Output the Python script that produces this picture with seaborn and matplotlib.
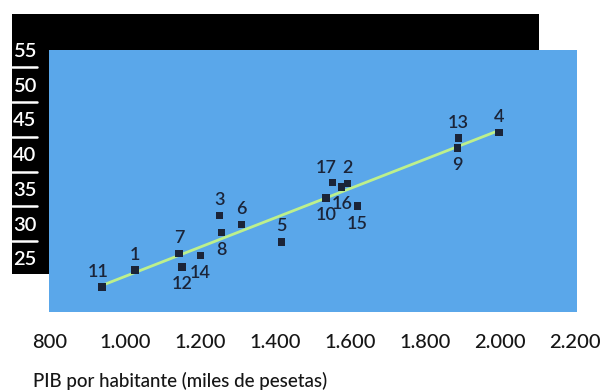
import matplotlib
matplotlib.use("Agg")
import matplotlib.pyplot as plt
import matplotlib.transforms as mtransforms
from matplotlib.patches import Rectangle
from matplotlib.lines import Line2D
import seaborn as sns
import pandas as pd

# ---- data ----
region_ids = [1, 2, 3, 4, 5, 6, 7, 8, 9, 10, 11, 12, 13, 14, 15, 16, 17]
pib_per_capita = [1027, 1593, 1252, 1997, 1418, 1311, 1145, 1258, 1887,
                  1537, 939, 1152, 1889, 1202, 1620, 1578, 1554]
y_values = [23.3, 35.8, 31.2, 43.1, 27.4, 29.9, 25.7, 28.7, 40.9,
            33.7, 20.9, 23.8, 42.3, 25.4, 32.5, 35.3, 35.9]
x_ticks = [800, 1000, 1200, 1400, 1600, 1800, 2000, 2200]
x_tick_labels = ["800", "1.000", "1.200", "1.400", "1.600", "1.800", "2.000", "2.200"]
y_ticks = [25, 30, 35, 40, 45, 50, 55]
x_label = "PIB por habitante (miles de pesetas)"

df = pd.DataFrame({"id": region_ids, "pib": pib_per_capita, "y": y_values})

# ---- styling ----
sns.set_theme(style="white")
plt.rcParams["font.family"] = ["Lato", "DejaVu Sans"]

W, H = 606, 390
fig = plt.figure(figsize=(W / 100, H / 100), dpi=100, facecolor="white")

# axes = blue panel
bl, bt, br, bb = 49, 50, 577, 312
ax = fig.add_axes([bl / W, 1 - bb / H, (br - bl) / W, (bb - bt) / H])
blue = "#5aa7ea"
ax.set_facecolor(blue)
for s in ax.spines.values():
    s.set_visible(False)

ax.set_xlim(798.3, 2204.9)
ax.set_ylim(17.28, 52.62)

# black panel behind (figure level)
kl, kt, kr, kb = 12, 14, 539, 274
fig.patches.append(Rectangle((kl / W, 1 - kb / H), (kr - kl) / W, (kb - kt) / H,
                             transform=fig.transFigure, facecolor="black",
                             edgecolor="none", zorder=-1))

# white separators between y labels
blend = mtransforms.blended_transform_factory(fig.transFigure, ax.transData)
for t in y_ticks[:-1]:
    fig.lines.append(Line2D([12 / W, 37 / W], [t + 2.5, t + 2.5], transform=blend,
                            color="white", lw=1.8, zorder=0))

navy = "#1b2438"
sns.regplot(data=df, x="pib", y="y", ax=ax, ci=None, marker="s",
            scatter_kws=dict(s=30, color=navy, edgecolors="none", alpha=1, zorder=3),
            line_kws=dict(color="#bdf08c", lw=2.0, zorder=2))

# labels around markers (offsets in points)
above = (0, 11)
below = (0, -12.5)
offsets = {1: above, 2: above, 3: above, 4: above, 5: above, 6: above, 7: above,
           8: below, 9: below, 10: below, 11: (-2.5, 11), 12: below, 13: above,
           14: below, 15: below, 16: below, 17: (-4.5, 10.5)}
for rid, xv, yv in zip(region_ids, pib_per_capita, y_values):
    ax.annotate(str(rid), (xv, yv), xytext=offsets[rid], textcoords="offset points",
                ha="center", va="center", fontsize=13, fontweight="semibold",
                color=navy, zorder=4)

ax.set_xticks(x_ticks)
ax.set_xticklabels(x_tick_labels, fontweight="medium")
ax.set_yticks(y_ticks)
ax.set_yticklabels([str(v) for v in y_ticks], fontweight="semibold")
ax.tick_params(axis="x", length=0, pad=16, labelsize=14.5, labelcolor="#161616")
ax.tick_params(axis="y", length=0, pad=9, labelsize=14.5, labelcolor="white")
ax.set_xlabel("")
ax.set_ylabel("")

fig.text(33 / W, 1 - 381 / H, x_label, ha="left", va="center",
         fontsize=13.5, fontweight="medium", color="#161616")

fig.savefig("out.png", dpi=100, facecolor="white")
